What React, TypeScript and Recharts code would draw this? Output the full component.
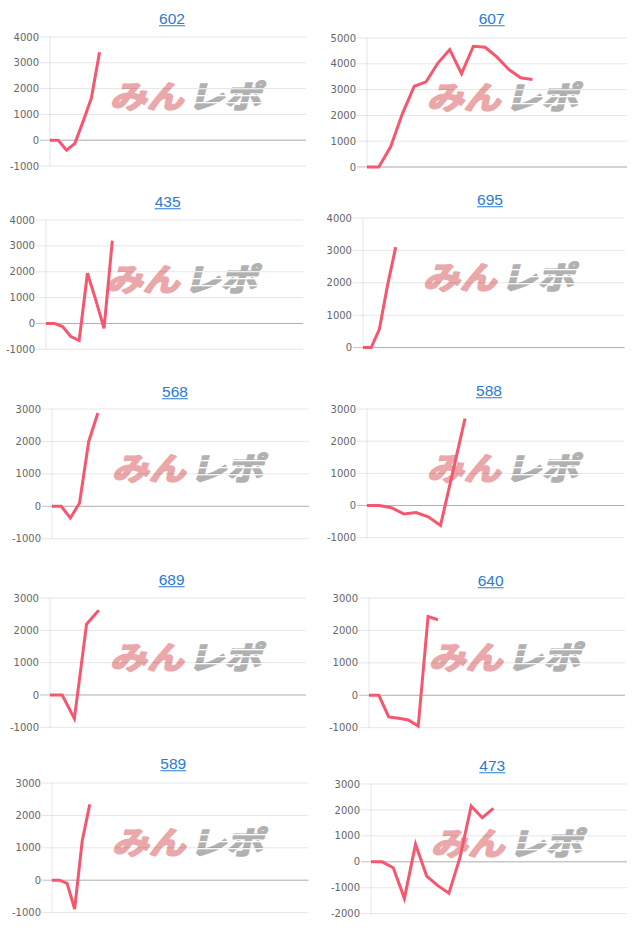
import React from 'react';
import { LineChart, Line, XAxis, YAxis, CartesianGrid, ReferenceLine } from 'recharts';

// 差枚推移 10台分
const titles = ['602', '607', '435', '695', '568', '588', '689', '640', '589', '473'];

const s602 = [0, 0, -390, -130, 720, 1620, 3410];
const s607 = [0, 0, 780, 2070, 3130, 3300, 4030, 4550, 3620, 4680, 4640, 4260, 3780, 3460, 3390];
const s435 = [0, 0, -120, -510, -660, 1940, 910, -190, 3200];
const s695 = [0, 0, 565, 1920, 3100];
const s568 = [0, 0, -360, 100, 2000, 2875];
const s588 = [0, 0, -70, -260, -220, -350, -620, 1040, 2700];
const s689 = [0, 0, -730, 2190, 2620];
const s640 = [0, 0, -670, -710, -760, -950, 2430, 2330];
const s589 = [0, 0, -100, -890, 1210, 2340];
const s473 = [0, 0, -230, -1410, 680, -550, -920, -1210, 170, 2150, 1700, 2060];

const series = [s602, s607, s435, s695, s568, s588, s689, s640, s589, s473];

// x軸のラベル数(表示なし)
const labelCounts = [32, 23, 32, 33, 29, 22, 22, 27, 35, 24];

const ticksA = [-1000, 0, 1000, 2000, 3000, 4000];
const ticksB = [0, 1000, 2000, 3000, 4000, 5000];
const ticksC = [0, 1000, 2000, 3000, 4000];
const ticksD = [-1000, 0, 1000, 2000, 3000];
const ticksE = [-2000, -1000, 0, 1000, 2000, 3000];
const yTicks = [ticksA, ticksB, ticksA, ticksC, ticksD, ticksD, ticksD, ticksD, ticksD, ticksE];

// plot area position on the page + title center
const layout = [
  { x: 50, y: 37, w: 256, h: 129, tx: 172, ty: 19 },
  { x: 366.7, y: 37.7, w: 260, h: 129, tx: 491.7, ty: 19 },
  { x: 45.7, y: 220, w: 257, h: 129.3, tx: 167.7, ty: 202 },
  { x: 363.3, y: 217.7, w: 261.7, h: 129.6, tx: 490, ty: 200 },
  { x: 52.3, y: 409.3, w: 257, h: 129.7, tx: 175, ty: 391.7 },
  { x: 366.7, y: 409, w: 257.3, h: 128.7, tx: 489, ty: 390.7 },
  { x: 50, y: 597.7, w: 256, h: 129.3, tx: 171.7, ty: 580 },
  { x: 369, y: 598.3, w: 256, h: 129.7, tx: 490.7, ty: 580.7 },
  { x: 51.7, y: 782.7, w: 256.6, h: 129.6, tx: 173.3, ty: 764 },
  { x: 370.7, y: 784, w: 256, h: 129.7, tx: 492.3, ty: 766 },
];

const LINE = '#f7566f';
const GRID = 'rgba(0,0,0,0.1)';
const ZERO = 'rgba(0,0,0,0.25)';
const AXIS_W = 46;
const PAD = 8;
const PINK = '#eba8aa';
const GRAY = '#b1b1b1';

const YTick = (props: any) => {
  const { x, y, payload } = props;
  const isZero = payload.value === 0;
  return (
    <g>
      <line x1={x + 1} x2={x + 11} y1={y} y2={y} stroke={isZero ? ZERO : GRID} />
      <text x={x} y={y} dy={3.6} textAnchor="end" fill="#666" fontSize={10} fontFamily="'DejaVu Sans', sans-serif">
        {payload.value}
      </text>
    </g>
  );
};

const Watermark = ({ left, top }: { left: number; top: number }) => (
  <svg width={190} height={48} style={{ position: 'absolute', left, top, overflow: 'visible' }}>
    <g transform="translate(4,35) skewX(-14) scale(1.08,0.92)">
      <text
        x={0}
        y={0}
        fontSize={34}
        fontWeight={700}
        fill={PINK}
        stroke={PINK}
        strokeWidth={2.2}
        strokeLinejoin="round"
        fontFamily="'Noto Sans CJK JP', sans-serif"
      >
        みん
      </text>
      <text
        x={72}
        y={0}
        fontSize={34}
        fontWeight={700}
        fill={GRAY}
        stroke={GRAY}
        strokeWidth={2.2}
        strokeLinejoin="round"
        fontFamily="'Noto Sans CJK JP', sans-serif"
      >
        レポ
      </text>
    </g>
    <rect x={84} y={15} width={84} height={1.3} fill="#fff" />
    <rect x={84} y={22} width={84} height={1.3} fill="#fff" />
    <rect x={84} y={29} width={84} height={1.3} fill="#fff" />
  </svg>
);

function Panel({ idx }: { idx: number }) {
  const L = layout[idx];
  const vals = series[idx];
  const ticks = yTicks[idx];
  const data = Array.from({ length: labelCounts[idx] }, (_, i) => ({ x: String(i + 1), v: vals[i] }));
  return (
    <>
      <a
        href="#"
        style={{
          position: 'absolute',
          left: L.tx,
          top: L.ty,
          transform: 'translate(-50%,-50%)',
          color: '#2a7bd3',
          textDecoration: 'underline',
          fontSize: 15.5,
          fontFamily: "'Liberation Sans', Arial, sans-serif",
          lineHeight: 1,
        }}
      >
        {titles[idx]}
      </a>
      <Watermark left={L.x + 56} top={L.y + 36} />
      <div style={{ position: 'absolute', left: L.x - AXIS_W, top: L.y - PAD }}>
        <LineChart
          width={AXIS_W + L.w + 4}
          height={L.h + PAD * 2}
          data={data}
          margin={{ top: PAD, right: 4, bottom: PAD, left: 0 }}
        >
          <CartesianGrid vertical={false} stroke={GRID} />
          <XAxis dataKey="x" hide />
          <YAxis
            width={AXIS_W}
            domain={[ticks[0], ticks[ticks.length - 1]]}
            ticks={ticks}
            interval={0}
            tickSize={10}
            tickMargin={1}
            tickLine={false}
            axisLine={{ stroke: GRID }}
            tick={YTick}
          />
          <ReferenceLine y={0} stroke={ZERO} />
          <Line
            type="linear"
            dataKey="v"
            stroke={LINE}
            strokeWidth={3}
            dot={false}
            activeDot={false}
            isAnimationActive={false}
          />
        </LineChart>
      </div>
    </>
  );
}

export default function App() {
  return (
    <div style={{ position: 'absolute', left: 0, top: 0, width: 640, height: 931, background: '#fff' }}>
      {titles.map((_, i) => (
        <Panel key={i} idx={i} />
      ))}
    </div>
  );
}
